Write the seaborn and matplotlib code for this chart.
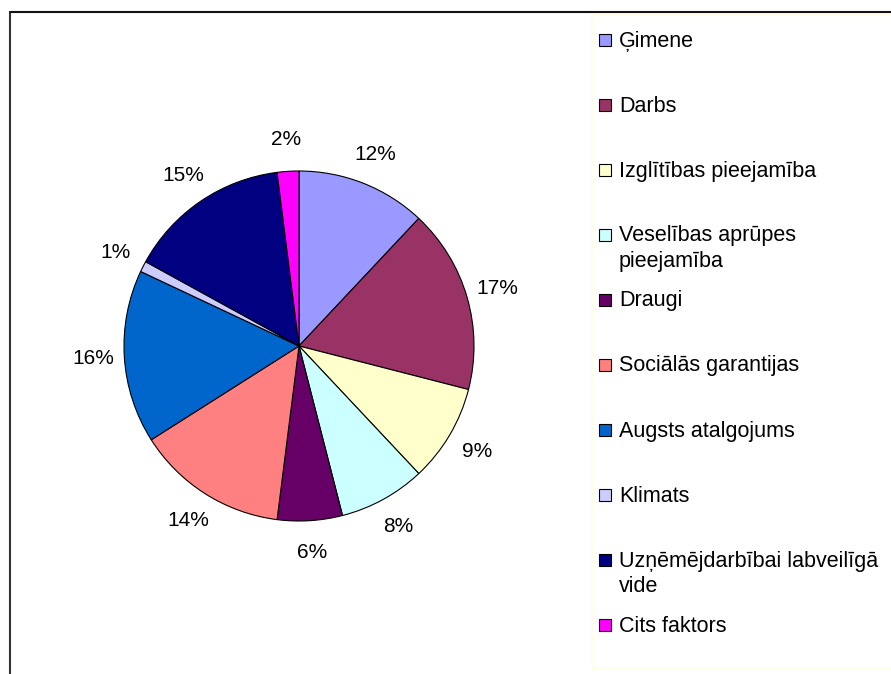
import matplotlib.pyplot as plt
import seaborn as sns
from matplotlib.lines import Line2D
from matplotlib.patches import Rectangle

# Factors and their share (%)
factors = ['Ģimene', 'Darbs', 'Izglītības pieejamība',
           'Veselības aprūpes\npieejamība', 'Draugi', 'Sociālās garantijas',
           'Augsts atalgojums', 'Klimats',
           'Uzņēmējdarbībai labveilīgā\nvide', 'Cits faktors']
shares = [12, 17, 9, 8, 6, 14, 16, 1, 15, 2]
colors = ['#9999FF', '#993366', '#FFFFCC', '#CCFFFF', '#660066',
          '#FF8080', '#0066CC', '#CCCCFF', '#000080', '#FF00FF']

sns.set_theme(style='white')
plt.rcParams['font.family'] = ['Liberation Sans', 'DejaVu Sans']

W, H = 891, 674
fig = plt.figure(figsize=(W / 100, H / 100), dpi=100)
fig.patch.set_facecolor('white')

# Pie axes: centre (299, 346) px, radius 175 px
r = 175
half = 1.25 * r
ax = fig.add_axes([(299 - half) / W, (H - 346 - half) / H, 2 * half / W, 2 * half / H])
palette = sns.color_palette(colors)
ax.pie(shares, colors=palette, startangle=90, counterclock=False,
       autopct='%1.0f%%', pctdistance=1.18,
       wedgeprops=dict(edgecolor='black', linewidth=0.8),
       textprops=dict(fontsize=15, color='black'))
ax.set_xlim(-1.25, 1.25)
ax.set_ylim(-1.25, 1.25)
ax.set_aspect('equal')
ax.axis('off')

# Outer frame (left and top edges visible)
fig.add_artist(Line2D([10 / W, 10 / W], [0, 1 - 12 / H], transform=fig.transFigure,
                      color='#333333', linewidth=1.5))
fig.add_artist(Line2D([10 / W, 1], [1 - 12 / H, 1 - 12 / H], transform=fig.transFigure,
                      color='#111111', linewidth=1.5))

# Legend box
fig.add_artist(Rectangle((592 / W, 1 - 668 / H), 310 / W, 653 / H,
                         transform=fig.transFigure, facecolor='white',
                         edgecolor='#FFFFE0', linewidth=1.2))

top, step = 39.5, 65
for i, (name, col) in enumerate(zip(factors, palette)):
    y = top + i * step
    fig.add_artist(Rectangle((599 / W, 1 - (y + 6) / H), 12 / W, 12 / H,
                             transform=fig.transFigure, facecolor=col,
                             edgecolor='black', linewidth=0.8))
    fig.text(619 / W, 1 - (y - 9) / H, name, fontsize=15.5, va='top', ha='left',
             color='black', linespacing=1.25)

plt.savefig('out.png', dpi=100, facecolor='white')
